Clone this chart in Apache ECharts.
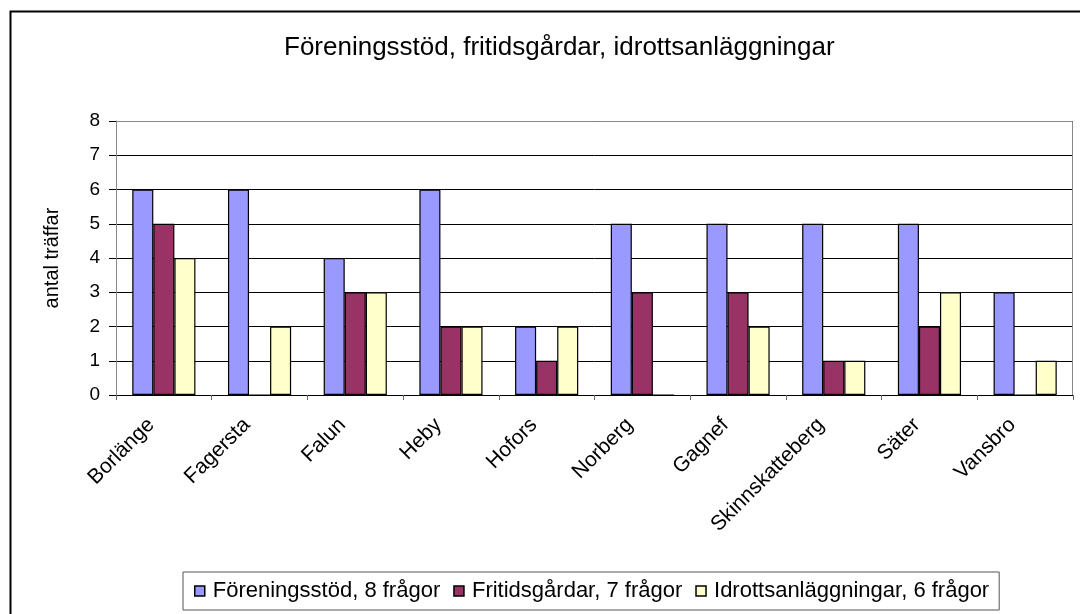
<!DOCTYPE html>
<html><head><meta charset="utf-8">
<script src="https://cdn.jsdelivr.net/npm/echarts@6/dist/echarts.min.js"></script>
<style>html,body{margin:0;padding:0;background:#fff}#c{width:1080px;height:614px}</style>
</head><body><div id="c"></div>
<script>
const categories = ['Borlänge','Fagersta','Falun','Heby','Hofors','Norberg','Gagnef','Skinnskatteberg','Säter','Vansbro'];
const foreningsstod = [6,6,4,6,2,5,5,5,5,3];
const fritidsgardar = [5,0,3,2,1,3,3,1,2,0];
const idrott = [4,2,3,2,2,0,2,1,3,1];
const seriesNames = ['Föreningsstöd, 8 frågor','Fritidsgårdar, 7 frågor','Idrottsanläggningar, 6 frågor'];
const yTicks = [0,1,2,3,4,5,6,7,8];

const FONT = '"Liberation Sans", Arial, sans-serif';
const chart = echarts.init(document.getElementById('c'), null, {renderer:'canvas'});
const G = {left:116, top:121, right:7, bottom:219};
function bar(name, data, color){
  return {name, type:'bar', data, barGap:'0%', barCategoryGap:'34%',
    itemStyle:{color, borderColor:'#000', borderWidth:1.2}};
}
chart.setOption({
  animation:false,
  backgroundColor:'#fff',
  textStyle:{fontFamily:FONT},
  title:{text:'Föreningsstöd, fritidsgårdar, idrottsanläggningar', left:279, top:30,
    textStyle:{fontSize:26, fontWeight:'normal', color:'#000', fontFamily:FONT}},
  legend:{data:seriesNames, left:183, top:572,
    padding:[8,10,8,11], borderColor:'#555', borderWidth:1, itemGap:13,
    itemWidth:10, itemHeight:10, icon:'rect',
    itemStyle:{borderColor:'#000', borderWidth:1.5},
    textStyle:{fontSize:22, color:'#000', fontFamily:FONT, padding:[0,0,0,3]}},
  grid:G,
  xAxis:{type:'category', data:categories,
    axisLine:{lineStyle:{color:'#000', width:1}},
    axisTick:{show:true, alignWithLabel:false, length:5, lineStyle:{color:'#666'}},
    axisLabel:{rotate:45, interval:0, fontSize:21, color:'#000', margin:14, fontFamily:FONT, padding:[0,18,0,0]}},
  yAxis:{type:'value', min:0, max:8, interval:1,
    name:'antal träffar', nameLocation:'middle', nameRotate:90, nameGap:54,
    nameTextStyle:{fontSize:20, color:'#000', fontFamily:FONT},
    axisLine:{show:true, lineStyle:{color:'#888'}},
    axisTick:{show:true, length:7, lineStyle:{color:'#000'}},
    axisLabel:{fontSize:19, color:'#000', margin:16, fontFamily:FONT,
      formatter:v=>yTicks.includes(v)?String(v):''},
    splitLine:{show:true, lineStyle:{color:'#000', width:1}}},
  graphic:[
    {type:'rect', shape:{x:10.5,y:11.5,width:1100,height:700}, style:{fill:null, stroke:'#000', lineWidth:2}, z:-1},
    {type:'polyline', shape:{points:[[116,121.5],[1072.5,121.5],[1072.5,395]]}, style:{stroke:'#888', lineWidth:1, fill:null}, z:100}
  ],
  series:[bar(seriesNames[0], foreningsstod, '#9999FF'), bar(seriesNames[1], fritidsgardar, '#993366'), bar(seriesNames[2], idrott, '#FFFFCC')]
});
</script></body></html>
